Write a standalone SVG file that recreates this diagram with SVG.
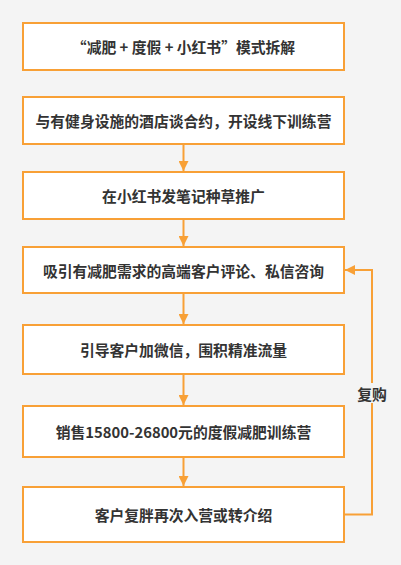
<svg xmlns="http://www.w3.org/2000/svg" width="401" height="565" viewBox="0 0 401 565">
<defs>
<style>
.box{fill:#ffffff;stroke:#f8a036;stroke-width:2}
.lbl{font-family:"Noto Sans CJK SC","Noto Sans",sans-serif;font-weight:bold;font-size:14.8px;fill:#333333;text-anchor:middle;dominant-baseline:central}
.con{fill:none;stroke:#f8a036;stroke-width:2}
</style>
<marker id="ah" viewBox="0 0 10 10" refX="10" refY="5" markerWidth="5" markerHeight="5" markerUnits="strokeWidth" orient="auto">
<path d="M0,0 L10,5 L0,10 Z" fill="#f8a036"/>
</marker>
</defs>
<rect x="0" y="0" width="401" height="565" fill="#f4f4f4"/>
<g id="connectors">
<path class="con" d="M183.5,144 V171" marker-end="url(#ah)"/>
<path class="con" d="M183.5,219 V246" marker-end="url(#ah)"/>
<path class="con" d="M183.5,293 V324" marker-end="url(#ah)"/>
<path class="con" d="M183.5,374 V405" marker-end="url(#ah)"/>
<path class="con" d="M183.5,457 V486" marker-end="url(#ah)"/>
<path class="con" d="M344,514.5 H372 V270 H345" marker-end="url(#ah)"/>
<rect x="357" y="383" width="30" height="20" fill="#f4f4f4"/>
<text class="lbl" x="372" y="393">复购</text>
</g>
<g id="n1"><rect class="box" x="23" y="23" width="321" height="47"/><text class="lbl" x="183.5" y="46.5">“减肥 + 度假 + 小红书”模式拆解</text></g>
<g id="n2"><rect class="box" x="23" y="97" width="321" height="47"/><text class="lbl" x="183.5" y="120.5">与有健身设施的酒店谈合约，开设线下训练营</text></g>
<g id="n3"><rect class="box" x="23" y="172" width="321" height="47"/><text class="lbl" x="183.5" y="195.5">在小红书发笔记种草推广</text></g>
<g id="n4"><rect class="box" x="23" y="247" width="321" height="46"/><text class="lbl" x="183.5" y="270">吸引有减肥需求的高端客户评论、私信咨询</text></g>
<g id="n5"><rect class="box" x="23" y="325" width="321" height="49"/><text class="lbl" x="183.5" y="349.5">引导客户加微信，围积精准流量</text></g>
<g id="n6"><rect class="box" x="23" y="406" width="321" height="51"/><text class="lbl" x="183.5" y="431.5">销售15800-26800元的度假减肥训练营</text></g>
<g id="n7"><rect class="box" x="23" y="487" width="321" height="55"/><text class="lbl" x="183.5" y="514.5">客户复胖再次入营或转介绍</text></g>
</svg>
